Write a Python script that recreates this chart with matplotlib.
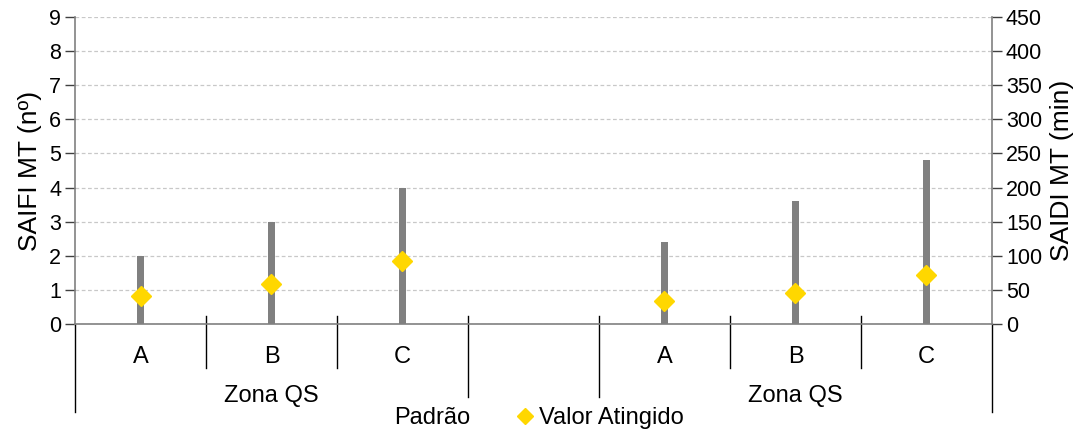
import matplotlib
matplotlib.use("Agg")
import matplotlib.pyplot as plt
from matplotlib.lines import Line2D
import matplotlib.transforms as mtransforms

plt.rcParams['font.family'] = ['Liberation Sans', 'DejaVu Sans']

# data
categories = ["A", "B", "C", "", "A", "B", "C"]
group_labels = ["Zona QS", "Zona QS"]
saifi_padrao = [2, 3, 4]
saifi_atingido = [0.82, 1.18, 1.84]
saidi_padrao = [120, 180, 240]
saidi_atingido = [33.5, 46, 71.5]

bar_color = "#808080"
mark_color = "#FFD700"

fig = plt.figure(figsize=(10.87, 4.33), dpi=100)
ax = fig.add_axes([75 / 1087, 109 / 433, 917 / 1087, 307 / 433])
ax2 = ax.twinx()

x_left = [1, 2, 3]
x_right = [5, 6, 7]

ax.bar(x_left, saifi_padrao, width=0.05, color=bar_color, zorder=2)
ax.plot(x_left, saifi_atingido, linestyle="none", marker="D", markersize=10,
        color=mark_color, zorder=3)
ax2.bar(x_right, saidi_padrao, width=0.05, color=bar_color, zorder=2)
ax2.plot(x_right, saidi_atingido, linestyle="none", marker="D", markersize=10,
         color=mark_color, zorder=3)

ax.set_xlim(0.5, 7.5)
ax.set_ylim(0, 9)
ax2.set_ylim(0, 450)
ax.set_yticks(range(0, 10))
ax2.set_yticks(range(0, 451, 50))
ax.set_xticks([])

ax.yaxis.grid(True, linestyle=(0, (3, 2)), color="#c8c8c8", linewidth=0.9)
ax.set_axisbelow(True)

for a in (ax, ax2):
    a.spines["top"].set_visible(False)
    for s in ("left", "right", "bottom"):
        a.spines[s].set_color("#808080")
        a.spines[s].set_linewidth(1.2)
    a.tick_params(axis="y", labelsize=15.5, length=7, width=1, color="#404040",
                  pad=3)
ax.spines["right"].set_visible(False)
ax2.spines["left"].set_visible(False)
ax2.spines["bottom"].set_visible(False)

ax.set_ylabel("SAIFI MT (nº)", fontsize=19, labelpad=5)
ax2.set_ylabel("SAIDI MT (min)", fontsize=19, labelpad=6)

# multi-level category axis
trans = mtransforms.blended_transform_factory(ax.transData, ax.transAxes)
px = 1 / 307  # one pixel in axes units (vertical)
short_seps = [1.5, 2.5, 5.5, 6.5]
mid_seps = [3.5, 4.5]
end_seps = [0.5, 7.5]
for xs in short_seps:
    ax.plot([xs, xs], [8 * px, -44 * px], color="black", lw=1,
            transform=trans, clip_on=False)
for xs in mid_seps:
    ax.plot([xs, xs], [8 * px, -73 * px], color="black", lw=1,
            transform=trans, clip_on=False)
for xs in end_seps:
    ax.plot([xs, xs], [0, -88 * px], color="black", lw=1,
            transform=trans, clip_on=False)

for i, lab in enumerate(categories):
    ax.text(i + 1, -33 * px, lab, transform=trans, ha="center", va="center",
            fontsize=17)
ax.text(2, -72 * px, group_labels[0], transform=trans, ha="center",
        va="center", fontsize=17)
ax.text(6, -72 * px, group_labels[1], transform=trans, ha="center",
        va="center", fontsize=17)

handles = [
    Line2D([], [], linestyle="none", marker=None),
    Line2D([], [], linestyle="none", marker="D", markersize=8, color=mark_color),
]
fig.legend(handles, ["Padrão", "Valor Atingido"], loc="center",
           bbox_to_anchor=(527 / 1087, 1 - 418 / 433), ncol=2, frameon=False,
           fontsize=17, handlelength=0.8, handletextpad=0.2, columnspacing=1.9,
           borderpad=0)

fig.savefig("out.png", dpi=100)
